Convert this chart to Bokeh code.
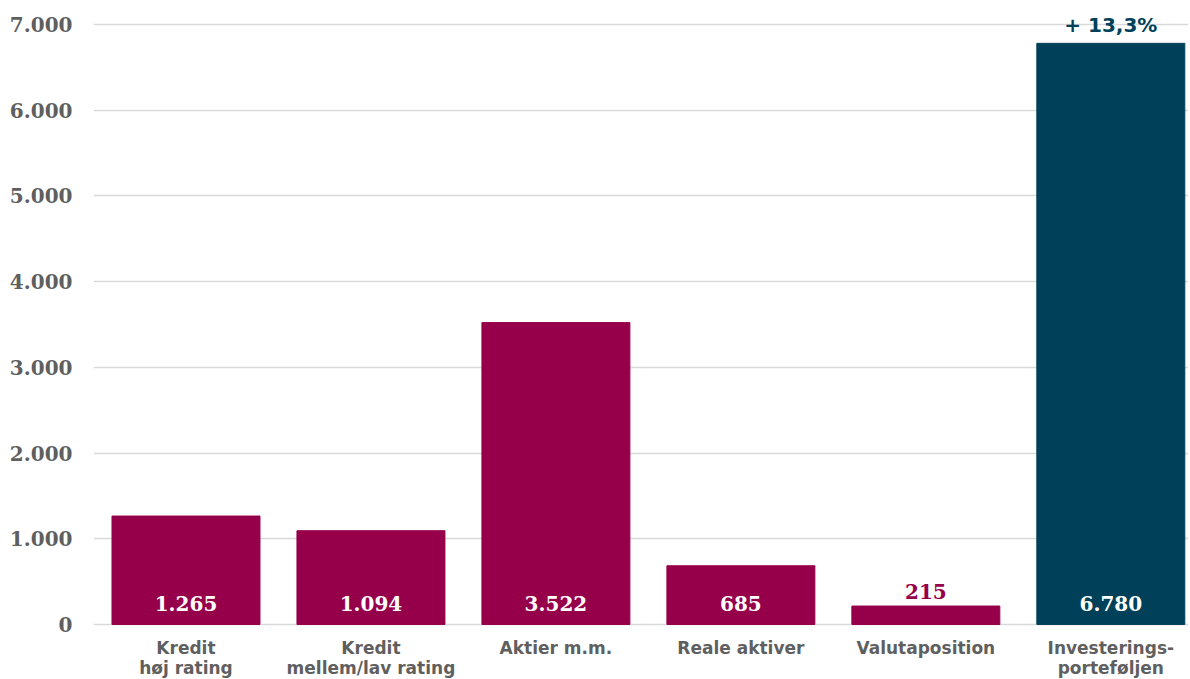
from bokeh.plotting import figure
from bokeh.models import ColumnDataSource, Range1d, FixedTicker
from bokeh.core.properties import value
from bokeh.embed import file_html
from bokeh.resources import INLINE

categories = ["Kredit\nhøj rating", "Kredit\nmellem/lav rating", "Aktier m.m.",
              "Reale aktiver", "Valutaposition", "Investerings-\nporteføljen"]
values = [1265, 1094, 3522, 685, 215, 6780]
bar_colors = ["#96004A", "#96004A", "#96004A", "#96004A", "#96004A", "#004159"]
y_ticks = [0, 1000, 2000, 3000, 4000, 5000, 6000, 7000]
total_change = "+ 13,3%"

def fmt(v):
    return f"{v:,}".replace(",", ".")

xs = list(range(len(categories)))

p = figure(width=1188, height=679, output_backend="svg", toolbar_location=None,
           x_range=Range1d(-0.5, 5.42), y_range=Range1d(-642, 7163),
           min_border_left=93, min_border_right=0, min_border_top=10, min_border_bottom=0)
p.outline_line_color = None
p.background_fill_color = "white"

src = ColumnDataSource(dict(x=xs, top=values, color=bar_colors,
                            label=[fmt(v) for v in values]))
p.vbar(x="x", top="top", width=0.8, bottom=0, color="color", source=src)

inside = [i for i, v in enumerate(values) if v >= 500]
outside = [i for i, v in enumerate(values) if v < 500]
p.text(x=[xs[i] for i in inside], y=[0] * len(inside),
       text=[fmt(values[i]) for i in inside], text_color="white",
       text_font=value("DejaVu Serif"), text_font_style="bold", text_font_size="20px",
       text_align="center", text_baseline="bottom", y_offset=-13)
p.text(x=[xs[i] for i in outside], y=[values[i] for i in outside],
       text=[fmt(values[i]) for i in outside], text_color="#96004A",
       text_font=value("DejaVu Serif"), text_font_style="bold", text_font_size="20px",
       text_align="center", text_baseline="bottom", y_offset=-7)
p.text(x=[xs[-1]], y=[values[-1]], text=[total_change], text_color="#004159",
       text_font=value("DejaVu Sans"), text_font_style="bold", text_font_size="20px",
       text_align="center", text_baseline="bottom", y_offset=-6)

# category labels below the zero line
p.text(x=xs, y=[0] * len(xs), text=categories, text_color="#5f5f5f",
       text_font=value("DejaVu Sans"), text_font_style="bold", text_font_size="17px",
       text_align="center", text_baseline="top", text_line_height=1.0, y_offset=14)

p.xaxis.visible = False

p.yaxis.ticker = FixedTicker(ticks=y_ticks)
p.yaxis.major_label_overrides = {t: fmt(t) for t in y_ticks}
p.yaxis.axis_line_color = None
p.yaxis.major_tick_line_color = None
p.yaxis.minor_tick_line_color = None
p.yaxis.major_label_text_font = "DejaVu Serif"
p.yaxis.major_label_text_font_style = "bold"
p.yaxis.major_label_text_font_size = "20px"
p.yaxis.major_label_text_color = "#5f5f5f"
p.yaxis.major_label_standoff = 15

p.xgrid.grid_line_color = None
p.ygrid.ticker = FixedTicker(ticks=y_ticks)
p.ygrid.grid_line_color = "#d9d9d9"
p.ygrid.grid_line_width = 1.5
p.ygrid.level = "underlay"

open("out.html", "w").write(file_html(p, INLINE))
